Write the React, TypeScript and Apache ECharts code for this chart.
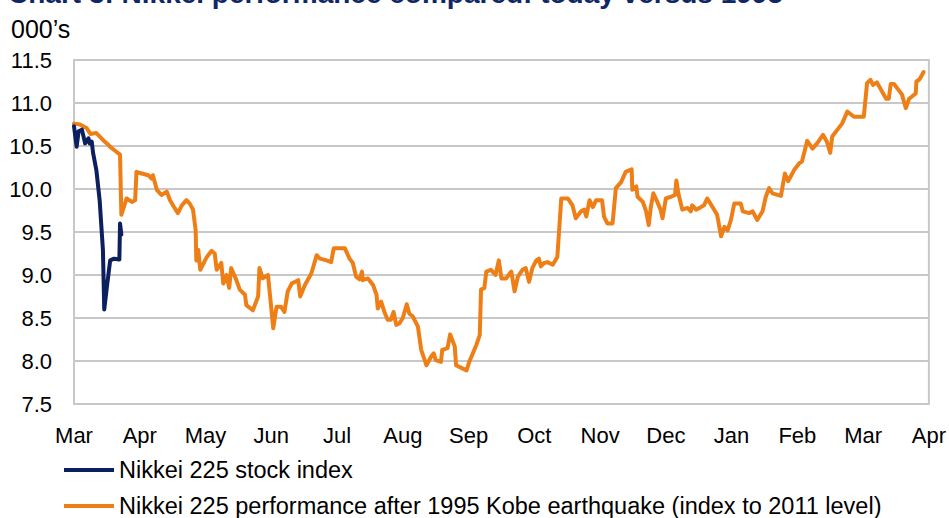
import React, { useEffect, useRef } from "react";
import * as echarts from "echarts";

const monthLabels = ["Mar", "Apr", "May", "Jun", "Jul", "Aug", "Sep", "Oct", "Nov", "Dec", "Jan", "Feb", "Mar", "Apr"];

const yTicks = [7.5, 8.0, 8.5, 9.0, 9.5, 10.0, 10.5, 11.0, 11.5];

const seriesNames = [
  "Nikkei 225 stock index",
  "Nikkei 225 performance after 1995 Kobe earthquake (index to 2011 level)",
];

// [months since start of March, index level in thousands]
const nikkei2011: [number, number][] = [
  [0, 10.73], [0.04, 10.49], [0.07, 10.67], [0.12, 10.69], [0.17, 10.53], [0.22, 10.59],
  [0.24, 10.53], [0.27, 10.55], [0.29, 10.42], [0.34, 10.22], [0.39, 9.87], [0.44, 9.29],
  [0.46, 8.6], [0.5, 8.86], [0.55, 9.17], [0.61, 9.19], [0.69, 9.18], [0.7, 9.6], [0.72, 9.47],
];

const kobe1995: [number, number][] = [
  [0, 10.76], [0.09, 10.75], [0.19, 10.71], [0.25, 10.64], [0.34, 10.65], [0.44, 10.57],
  [0.5, 10.53], [0.55, 10.49], [0.65, 10.43], [0.7, 10.4], [0.72, 9.7], [0.8, 9.89],
  [0.88, 9.85], [0.93, 9.87], [0.95, 10.2], [1.03, 10.18], [1.13, 10.16], [1.18, 10.12],
  [1.2, 10.16], [1.26, 9.99], [1.33, 9.93], [1.41, 9.97], [1.46, 9.87], [1.53, 9.78],
  [1.58, 9.72], [1.64, 9.81], [1.71, 9.87], [1.76, 9.83], [1.81, 9.76], [1.85, 9.52],
  [1.86, 9.17], [1.89, 9.29], [1.92, 9.06], [2.02, 9.21], [2.09, 9.28], [2.14, 9.25],
  [2.17, 9.06], [2.24, 9.14], [2.27, 8.9], [2.32, 9.0], [2.36, 8.85], [2.39, 9.08],
  [2.47, 8.94], [2.52, 8.83], [2.6, 8.77], [2.62, 8.65], [2.72, 8.59], [2.8, 8.75],
  [2.82, 9.08], [2.87, 8.96], [2.95, 9.0], [3.03, 8.38], [3.08, 8.63], [3.15, 8.63],
  [3.2, 8.57], [3.25, 8.81], [3.31, 8.9], [3.41, 8.94], [3.44, 8.75], [3.51, 8.88],
  [3.61, 9.02], [3.69, 9.23], [3.74, 9.19], [3.84, 9.17], [3.91, 9.15], [3.95, 9.31],
  [4.12, 9.31], [4.19, 9.19], [4.24, 9.14], [4.29, 8.98], [4.34, 8.95], [4.38, 9.04],
  [4.39, 8.94], [4.47, 8.96], [4.55, 8.88], [4.6, 8.77], [4.62, 8.61], [4.67, 8.69],
  [4.72, 8.57], [4.77, 8.48], [4.82, 8.48], [4.86, 8.57], [4.9, 8.42], [4.95, 8.44],
  [5.0, 8.5], [5.06, 8.66], [5.1, 8.55], [5.15, 8.52], [5.23, 8.4], [5.28, 8.13],
  [5.36, 7.95], [5.43, 8.05], [5.47, 8.09], [5.5, 8.01], [5.58, 7.99], [5.6, 8.13],
  [5.68, 8.15], [5.72, 8.31], [5.79, 8.17], [5.81, 7.95], [5.89, 7.92], [5.97, 7.89],
  [6.01, 7.99], [6.12, 8.19], [6.17, 8.3], [6.19, 8.83], [6.24, 8.85], [6.27, 9.04],
  [6.34, 9.06], [6.41, 9.0], [6.46, 9.17], [6.5, 8.96], [6.57, 8.96], [6.65, 9.04],
  [6.7, 8.81], [6.75, 8.98], [6.82, 9.06], [6.87, 9.08], [6.92, 8.92], [6.97, 9.08],
  [7.03, 9.17], [7.07, 9.19], [7.1, 9.1], [7.15, 9.14], [7.2, 9.15], [7.28, 9.12],
  [7.35, 9.21], [7.41, 9.89], [7.51, 9.89], [7.58, 9.81], [7.63, 9.66], [7.71, 9.74],
  [7.76, 9.76], [7.79, 9.68], [7.84, 9.87], [7.89, 9.79], [7.94, 9.87], [8.03, 9.87],
  [8.06, 9.68], [8.11, 9.6], [8.19, 9.6], [8.24, 10.01], [8.32, 10.08], [8.39, 10.2],
  [8.48, 10.23], [8.49, 9.99], [8.55, 10.03], [8.57, 9.91], [8.65, 9.85], [8.7, 9.74],
  [8.74, 9.58], [8.77, 9.78], [8.81, 9.95], [8.87, 9.85], [8.92, 9.76], [8.95, 9.66],
  [9.0, 9.89], [9.08, 9.91], [9.14, 9.93], [9.16, 10.1], [9.19, 9.95], [9.25, 9.76],
  [9.33, 9.78], [9.38, 9.74], [9.4, 9.81], [9.46, 9.76], [9.51, 9.78], [9.58, 9.81],
  [9.63, 9.89], [9.71, 9.79], [9.78, 9.7], [9.84, 9.45], [9.89, 9.56], [9.94, 9.52],
  [9.99, 9.64], [10.04, 9.83], [10.14, 9.83], [10.17, 9.74], [10.27, 9.72], [10.32, 9.74],
  [10.39, 9.64], [10.47, 9.74], [10.52, 9.91], [10.57, 10.01], [10.62, 9.95], [10.75, 9.92],
  [10.81, 10.18], [10.86, 10.09], [10.95, 10.22], [11.03, 10.3], [11.07, 10.32], [11.15, 10.56],
  [11.23, 10.47], [11.3, 10.53], [11.39, 10.63], [11.45, 10.55], [11.5, 10.42], [11.53, 10.61],
  [11.61, 10.69], [11.68, 10.76], [11.76, 10.9], [11.86, 10.84], [12.01, 10.84], [12.06, 11.23],
  [12.11, 11.27], [12.15, 11.21], [12.21, 11.24], [12.29, 11.13], [12.35, 11.05], [12.39, 11.05],
  [12.42, 11.22], [12.47, 11.22], [12.54, 11.15], [12.59, 11.1], [12.65, 10.94], [12.7, 11.05],
  [12.8, 11.11], [12.81, 11.25], [12.85, 11.27], [12.87, 11.29], [12.92, 11.36],
];

const titleText = "Chart 3: Nikkei performance compared: today versus 1995";
const unitText = "000\u2019s";

const FONT = "'Liberation Sans', Arial, sans-serif";

const legendBase = {
  orient: "vertical",
  left: 64,
  itemWidth: 50,
  itemHeight: 4,
  icon: "rect",
  padding: 0,
  textStyle: { fontSize: 23.5, color: "#000000", fontFamily: FONT },
};

export default function App() {
  const ref = useRef<HTMLDivElement>(null);
  useEffect(() => {
    if (!ref.current) return;
    const chart = echarts.init(ref.current, undefined, { renderer: "svg" });
    chart.setOption({
      animation: false,
      backgroundColor: "#ffffff",
      textStyle: { fontFamily: FONT },
      grid: {
        left: 74,
        right: 19,
        top: 60,
        bottom: 114,
        show: true,
        borderColor: "#c8c8c8",
        borderWidth: 2,
      },
      graphic: [
        {
          type: "text",
          left: 8,
          top: -21,
          style: { text: titleText, font: `bold 28px ${FONT}`, fill: "#0f2766" },
        },
        {
          type: "text",
          left: 11,
          top: 16,
          style: { text: unitText, font: `25px ${FONT}`, fill: "#000000" },
        },
      ],
      legend: [
        { ...legendBase, top: 458, data: [seriesNames[0]] },
        { ...legendBase, top: 494, data: [seriesNames[1]] },
      ],
      xAxis: {
        type: "value",
        min: 0,
        max: 13,
        interval: 1,
        axisLine: { show: false },
        axisTick: { show: false },
        splitLine: { show: false },
        axisLabel: {
          margin: 20,
          fontSize: 22,
          color: "#000000",
          fontFamily: FONT,
          formatter: (v: number) => monthLabels[Math.round(v)] ?? "",
        },
      },
      yAxis: {
        type: "value",
        min: yTicks[0],
        max: yTicks[yTicks.length - 1],
        interval: 0.5,
        axisLine: { show: false },
        axisTick: { show: false },
        splitLine: { show: true, lineStyle: { color: "#c8c8c8", width: 2 } },
        axisLabel: {
          margin: 22,
          fontSize: 22,
          color: "#000000",
          fontFamily: FONT,
          formatter: (v: number) => v.toFixed(1),
        },
      },
      series: [
        {
          name: seriesNames[1],
          type: "line",
          data: kobe1995,
          showSymbol: false,
          symbol: "none",
          color: "#ee7f17",
          lineStyle: { color: "#ee7f17", width: 4, join: "round", cap: "round" },
        },
        {
          name: seriesNames[0],
          type: "line",
          data: nikkei2011,
          showSymbol: false,
          symbol: "none",
          color: "#0c1f5e",
          lineStyle: { color: "#0c1f5e", width: 4, join: "round", cap: "round" },
        },
      ],
    });
    return () => chart.dispose();
  }, []);
  return (
    <div
      ref={ref}
      style={{ position: "fixed", left: 0, top: 0, width: 949, height: 518 }}
    />
  );
}
